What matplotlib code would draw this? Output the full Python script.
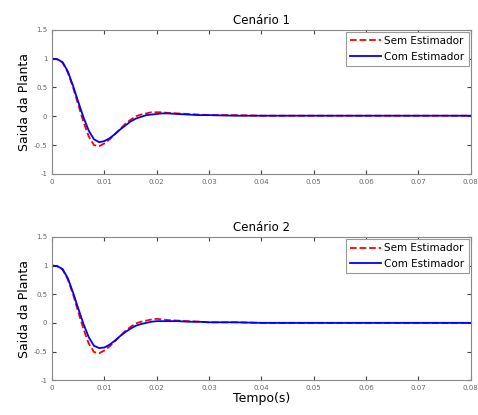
"""Resposta da planta nos dois cenarios, com e sem estimador."""
import matplotlib
matplotlib.use("Agg")
import matplotlib.pyplot as plt

# Tempo (s) dos pontos
tempo = [0.0, 0.001, 0.002, 0.003, 0.004, 0.005, 0.006, 0.007, 0.008,
         0.009, 0.010, 0.011, 0.012, 0.013, 0.014, 0.015, 0.016, 0.017,
         0.018, 0.019, 0.020, 0.021, 0.022, 0.024, 0.026, 0.028, 0.030,
         0.035, 0.040, 0.050, 0.060, 0.070, 0.080]

# Cenario 1
sem_est_1 = [1.0, 0.99, 0.93, 0.76, 0.50, 0.20, -0.10, -0.35, -0.50,
             -0.52, -0.47, -0.40, -0.31, -0.22, -0.13, -0.06, 0.0, 0.03,
             0.05, 0.07, 0.07, 0.07, 0.06, 0.05, 0.04, 0.03, 0.02,
             0.02, 0.01, 0.01, 0.01, 0.01, 0.01]
com_est_1 = [1.0, 0.99, 0.94, 0.78, 0.53, 0.25, -0.02, -0.25, -0.40,
             -0.45, -0.43, -0.38, -0.31, -0.23, -0.16, -0.09, -0.04, -0.01,
             0.02, 0.03, 0.04, 0.05, 0.05, 0.04, 0.03, 0.02, 0.02,
             0.01, 0.01, 0.01, 0.01, 0.01, 0.01]

# Cenario 2
sem_est_2 = [1.0, 0.99, 0.93, 0.76, 0.50, 0.19, -0.11, -0.36, -0.51,
             -0.53, -0.48, -0.41, -0.32, -0.23, -0.14, -0.07, -0.01, 0.02,
             0.04, 0.06, 0.07, 0.06, 0.05, 0.04, 0.03, 0.02, 0.01,
             0.01, 0.0, 0.0, 0.0, 0.0, 0.0]
com_est_2 = [1.0, 0.99, 0.94, 0.78, 0.53, 0.25, -0.02, -0.25, -0.40,
             -0.44, -0.43, -0.38, -0.31, -0.23, -0.16, -0.10, -0.05, -0.02,
             0.0, 0.02, 0.03, 0.03, 0.03, 0.03, 0.02, 0.02, 0.01,
             0.01, 0.0, 0.0, 0.0, 0.0, 0.0]

x_ticks = [0, 0.01, 0.02, 0.03, 0.04, 0.05, 0.06, 0.07, 0.08]
x_labels = ["0", "0.01", "0.02", "0.03", "0.04", "0.05", "0.06", "0.07", "0.08"]
y_ticks = [-1, -0.5, 0, 0.5, 1, 1.5]
y_labels = ["-1", "-0.5", "0", "0.5", "1", "1.5"]


def format_axis(ax, title):
    ax.set_xlim(0, 0.08)
    ax.set_ylim(-1, 1.5)
    ax.set_xticks(x_ticks)
    ax.set_xticklabels(x_labels)
    ax.set_yticks(y_ticks)
    ax.set_yticklabels(y_labels)
    ax.tick_params(direction="in", top=True, right=True, length=3,
                   labelsize=5, labelcolor="#666666", color="#444444")
    for spine in ax.spines.values():
        spine.set_color("#888888")
    ax.set_title(title, fontsize=8.5, pad=4)
    ax.set_ylabel("Saida da Planta", fontsize=9, labelpad=2)
    leg = ax.legend(loc="upper right", fontsize=7.5, fancybox=False,
                    framealpha=1, borderpad=0.4, handlelength=3,
                    handletextpad=0.3, labelspacing=0.55, borderaxespad=0.2)
    leg.get_frame().set_edgecolor("#999999")
    leg.get_frame().set_linewidth(0.8)


fig = plt.figure(figsize=(4.78, 4.15), dpi=100)
ax1 = fig.add_axes([0.109, 0.581, 0.876, 0.347])
ax2 = fig.add_axes([0.109, 0.084, 0.876, 0.345])

for ax, sem, com, title in [(ax1, sem_est_1, com_est_1, "Cenário 1"),
                            (ax2, sem_est_2, com_est_2, "Cenário 2")]:
    ax.plot(tempo, sem, "r--", lw=1.3, label="Sem Estimador")
    ax.plot(tempo, com, "b-", lw=1.3, label="Com Estimador")
    format_axis(ax, title)

ax2.set_xlabel("Tempo(s)", fontsize=9, labelpad=1)

fig.savefig("out.png", dpi=100)
